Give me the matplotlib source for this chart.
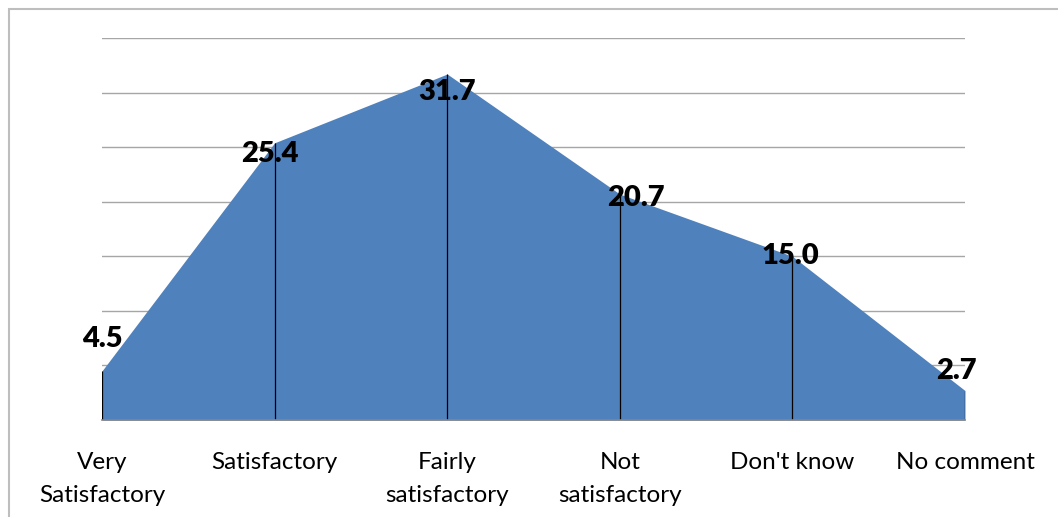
import matplotlib
matplotlib.use("Agg")
import matplotlib.pyplot as plt
from matplotlib.patches import Rectangle

categories = ["Very\nSatisfactory", "Satisfactory", "Fairly\nsatisfactory",
              "Not\nsatisfactory", "Don't know", "No comment"]
values = [4.5, 25.4, 31.7, 20.7, 15.0, 2.7]
value_labels = ["4.5", "25.4", "31.7", "20.7", "15.0", "2.7"]

# label placement offsets in pixels (dx, dy), style only
label_offsets = [(0, 32), (-5, -11), (0, -18), (16, -4), (-2, 0), (-9, 20)]

W, H = 1058, 517
fig = plt.figure(figsize=(W / 100, H / 100), dpi=100)
fig.patch.set_facecolor("white")

left, right, bottom, top = 102, 965, 420, 38
ax = fig.add_axes([left / W, 1 - bottom / H, (right - left) / W, (bottom - top) / H])

x = list(range(len(values)))
ax.set_xlim(0, len(values) - 1)
ax.set_ylim(0, 35)

ax.set_yticks(range(0, 36, 5))
ax.yaxis.grid(True, color="#A6A6A6", linewidth=1.0)
ax.set_axisbelow(True)
ax.tick_params(axis="y", left=False, labelleft=False)

ax.fill_between(x, values, 0, color="#4F81BD", linewidth=0, zorder=2)
ax.vlines(x, 0, values, colors="black", linewidth=0.9, zorder=3)

for s in ["left", "right", "top"]:
    ax.spines[s].set_visible(False)
ax.spines["bottom"].set_color("#868686")
ax.spines["bottom"].set_linewidth(1.2)
ax.spines["bottom"].set_zorder(4)

ax.set_xticks(x)
ax.set_xticklabels(categories, fontsize=17.5, family="Lato", linespacing=1.7)
ax.tick_params(axis="x", length=0, pad=23)

for xi, v, lab, (dx, dy) in zip(x, values, value_labels, label_offsets):
    ax.annotate(lab, (xi, v), xytext=(dx, dy), textcoords="offset pixels",
                ha="center", va="center", fontsize=21, fontweight="heavy",
                family="Lato", color="black", zorder=5, annotation_clip=False)

fig.patches.append(Rectangle((9 / W, -0.1), 1.2, 1 - 9 / H + 0.1,
                             transform=fig.transFigure, fill=False,
                             edgecolor="#BEBEBE", linewidth=1.5))

fig.savefig("out.png", dpi=100)
